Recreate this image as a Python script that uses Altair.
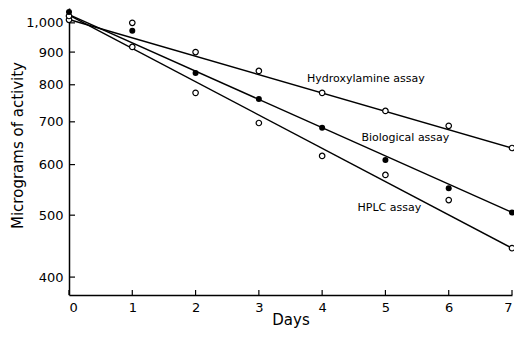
import altair as alt
import pandas as pd

# ---- data ----
days = [0, 1, 2, 3, 4, 5, 6, 7]
hydroxylamine = [1011, 1000, 900, 841, 777, 728, 690, 637]
biological = [1040, 972, 835, 760, 685, 610, 551, 505]
hplc = [1025, 917, 777, 697, 619, 578, 528, 444]

fit_days = [0, 7]
hydroxylamine_fit = [1012, 637]
biological_fit = [1030, 505]
hplc_fit = [1028, 444]

label_text = ["Hydroxylamine assay", "Biological assay", "HPLC assay"]
label_day = [3.76, 4.62, 4.56]
label_value = [817, 660, 513]

y_ticks = [400, 500, 600, 700, 800, 900, 1000]
x_ticks = [0, 1, 2, 3, 4, 5, 6, 7]

FONT = "DejaVu Sans"

open_pts = pd.DataFrame(
    {"day": days * 2, "value": hydroxylamine + hplc,
     "assay": ["Hydroxylamine"] * 8 + ["HPLC"] * 8}
)
filled_pts = pd.DataFrame({"day": days, "value": biological, "assay": ["Biological"] * 8})
fits = pd.DataFrame(
    {"day": fit_days * 3,
     "value": hydroxylamine_fit + biological_fit + hplc_fit,
     "assay": ["Hydroxylamine"] * 2 + ["Biological"] * 2 + ["HPLC"] * 2}
)
labels = pd.DataFrame({"text": label_text, "day": label_day, "value": label_value})
yt = pd.DataFrame({"value": y_ticks})
xt = pd.DataFrame({"day": x_ticks})

xscale = alt.Scale(domain=[0, 7], nice=False)
yscale = alt.Scale(type="log", domain=[375, 1055], nice=False)

x_enc = alt.X(
    "day:Q", scale=xscale,
    axis=alt.Axis(values=x_ticks, title="Days", format="d", ticks=False, grid=False,
                  labelPadding=6, titleY=24, titleBaseline="middle",
                  domainColor="black", domainWidth=1.5)
)
y_enc = alt.Y(
    "value:Q", scale=yscale,
    axis=alt.Axis(values=y_ticks, title="Micrograms of activity", ticks=False, grid=False,
                  labelExpr="datum.value >= 1000 ? '1,000' : format(datum.value, 'd')",
                  labelPadding=6, titleX=-52, titleY=137, titleAngle=270,
                  titleAlign="center", titleBaseline="middle",
                  domainColor="black", domainWidth=1.5)
)

lines = alt.Chart(fits).mark_line(color="black", strokeWidth=1.4).encode(
    x=x_enc, y=y_enc, detail="assay:N"
)
opens = alt.Chart(open_pts).mark_point(
    shape="circle", filled=False, fill="white", fillOpacity=1, stroke="black",
    strokeWidth=1.2, size=30, opacity=1
).encode(x="day:Q", y="value:Q")
fills = alt.Chart(filled_pts).mark_circle(color="black", size=36, opacity=1).encode(
    x="day:Q", y="value:Q"
)
texts = alt.Chart(labels).mark_text(
    align="left", baseline="middle", font=FONT, fontSize=11, color="black"
).encode(x="day:Q", y="value:Q", text="text:N")
ytick_marks = alt.Chart(yt).mark_rule(color="black", strokeWidth=1.2).encode(
    y="value:Q", x=alt.value(0), x2=alt.value(6)
)
xtick_marks = alt.Chart(xt).mark_rule(color="black", strokeWidth=1.2).encode(
    x="day:Q", y=alt.value(287), y2=alt.value(282)
)

chart = alt.layer(lines, ytick_marks, xtick_marks, opens, fills, texts).properties(
    width=443, height=287,
    autosize=alt.AutoSizeParams(type="none"),
    padding={"left": 61, "top": 0, "right": 2, "bottom": 33},
    background="white",
).configure_view(stroke=None).configure_axis(
    labelFont=FONT, labelFontSize=13, labelColor="black",
    titleFont=FONT, titleFontSize=15, titleFontWeight="normal", titleColor="black",
)

chart.save("out.html", embed_options={"renderer": "svg", "actions": False})
